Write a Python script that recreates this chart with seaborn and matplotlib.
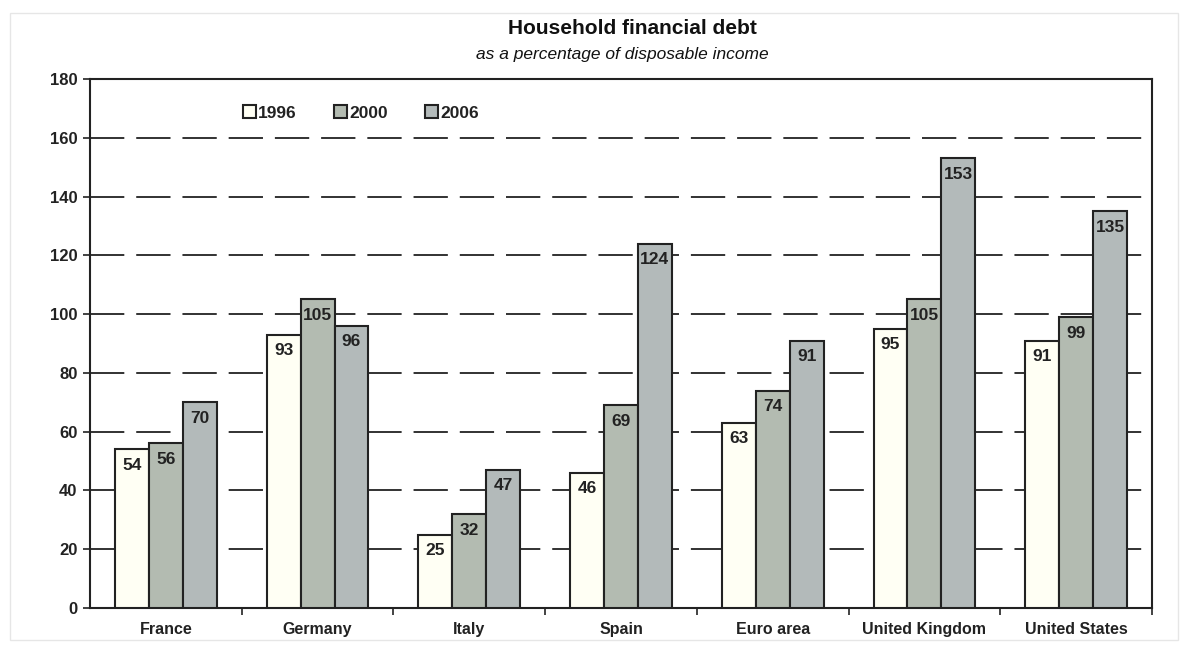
import matplotlib
matplotlib.use("Agg")
import matplotlib.pyplot as plt
import seaborn as sns
import pandas as pd
from matplotlib.patches import Rectangle

categories = ["France", "Germany", "Italy", "Spain", "Euro area", "United Kingdom", "United States"]
years = ["1996", "2000", "2006"]
v1996 = [54, 93, 25, 46, 63, 95, 91]
v2000 = [56, 105, 32, 69, 74, 105, 99]
v2006 = [70, 96, 47, 124, 91, 153, 135]
yticks = [0, 20, 40, 60, 80, 100, 120, 140, 160, 180]

rows = []
for yr, vals in zip(years, [v1996, v2000, v2006]):
    for c, v in zip(categories, vals):
        rows.append({"country": c, "year": yr, "value": v})
df = pd.DataFrame(rows)

sns.set_theme(style="white")
plt.rcParams["font.family"] = ["Liberation Sans", "DejaVu Sans"]

colors = ["#FFFFF4", "#B3BBB1", "#B3BABA"]

fig = plt.figure(figsize=(11.88, 6.6), dpi=100)
fig.patches.append(Rectangle((10/1188, 20/660), 1168/1188, 627/660, transform=fig.transFigure,
                             facecolor="none", edgecolor="#E6E6E6", lw=1.0))
ax = fig.add_axes([90/1188, 1 - 608/660, (1152 - 90)/1188, (608 - 79)/660])

sns.barplot(data=df, x="country", y="value", hue="year", order=categories, hue_order=years,
            palette=colors, width=0.67, edgecolor="#222222", linewidth=1.5,
            saturation=1, ax=ax, zorder=3)

for cont in ax.containers:
    ax.bar_label(cont, padding=-17, fontsize=12.5, color="#222222", fontweight="bold")

ax.set_ylim(0, 180)
ax.set_yticks(yticks)
ax.set_xlim(-0.5, len(categories) - 0.5)
ax.set_xlabel("")
ax.set_ylabel("")
for y in yticks[1:-1]:
    ax.axhline(y, color="#222222", lw=1.3, linestyle=(0, (19, 6.6)), zorder=1)

for s in ["left", "right", "top", "bottom"]:
    ax.spines[s].set_visible(True)
    ax.spines[s].set_color("#222222")
    ax.spines[s].set_linewidth(1.5)

ax.tick_params(axis="y", which="major", left=True, length=5, width=1.2, color="#222222",
               labelsize=12, labelcolor="#222222", pad=4)
for t in ax.get_yticklabels():
    t.set_fontweight("bold")
ax.set_xticks(range(len(categories)))
ax.set_xticklabels(categories)
ax.tick_params(axis="x", which="major", bottom=False, length=0, labelsize=11.5,
               labelcolor="#222222", pad=10)
for t in ax.get_xticklabels():
    t.set_fontweight("bold")
ax.set_xticks([i + 0.5 for i in range(len(categories))], minor=True)
ax.tick_params(axis="x", which="minor", bottom=True, length=5, width=1.2, color="#222222")

leg = ax.legend(loc="upper left", bbox_to_anchor=(0.129, 0.98), ncol=3, frameon=False,
                fontsize=12.5, handlelength=0.75, handleheight=0.75, handletextpad=0.15,
                columnspacing=2.12)
for h in leg.legend_handles:
    h.set_edgecolor("#222222")
    h.set_linewidth(1.5)
for t in leg.get_texts():
    t.set_fontweight("bold")
    t.set_color("#222222")

fig.text(632/1188, 1 - 28/660, "Household financial debt", ha="center", va="center",
         fontsize=15, fontweight="bold", color="#111111")
fig.text(622/1188, 1 - 55/660, "as a percentage of disposable income", ha="center", va="center",
         fontsize=12.5, fontstyle="italic", color="#111111")

fig.savefig("out.png", dpi=100, facecolor="white")
